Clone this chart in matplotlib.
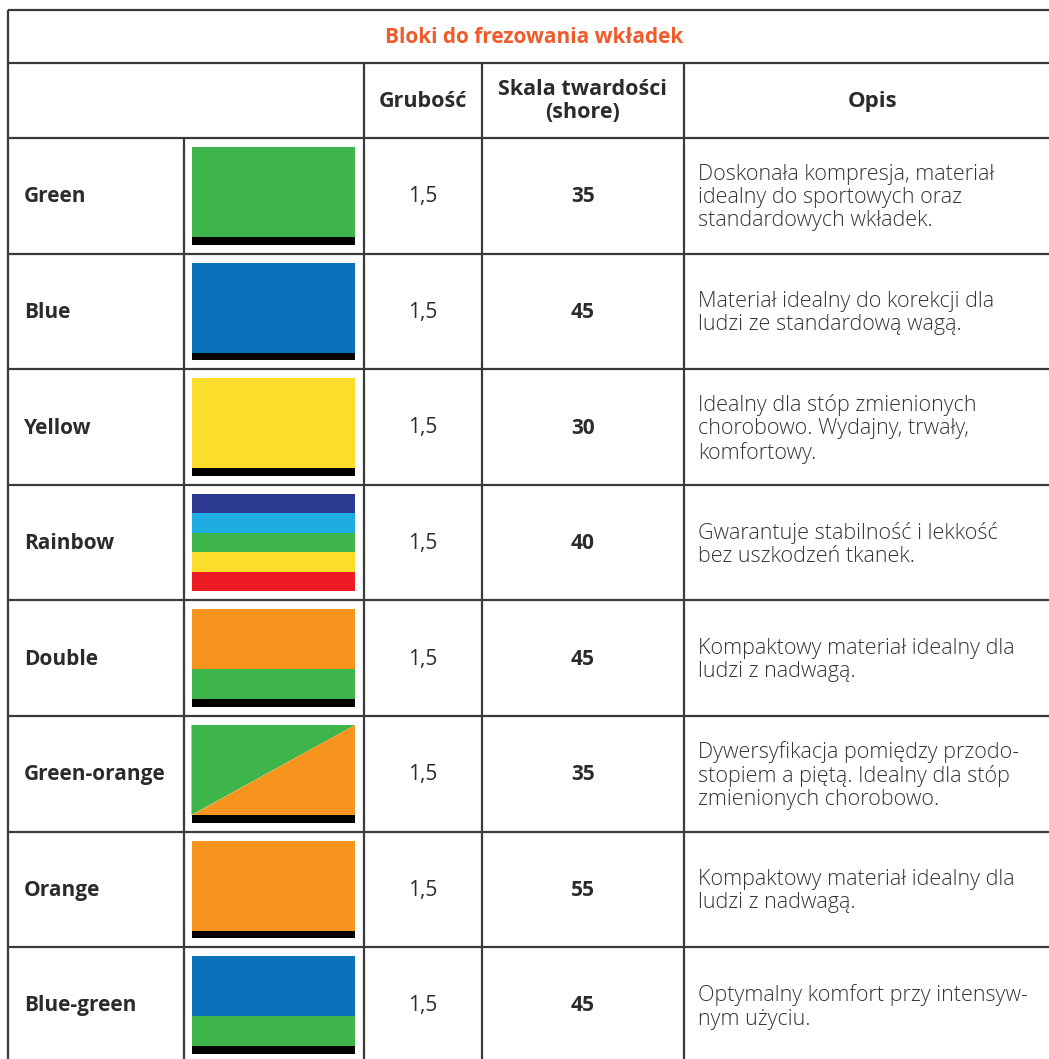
import matplotlib
matplotlib.use("Agg")
import matplotlib.pyplot as plt
from matplotlib.patches import Rectangle, Polygon

# ---------------- data ----------------
title = "Bloki do frezowania wkładek"
headers = ["Grubość", "Skala twardości\n(shore)", "Opis"]
names = ["Green", "Blue", "Yellow", "Rainbow", "Double",
         "Green-orange", "Orange", "Blue-green"]
thickness = ["1,5", "1,5", "1,5", "1,5", "1,5", "1,5", "1,5", "1,5"]
hardness = ["35", "45", "30", "40", "45", "35", "55", "45"]
descriptions = [
    "Doskonała kompresja, materiał\nidealny do sportowych oraz\nstandardowych wkładek.",
    "Materiał idealny do korekcji dla\nludzi ze standardową wagą.",
    "Idealny dla stóp zmienionych\nchorobowo. Wydajny, trwały,\nkomfortowy.",
    "Gwarantuje stabilność i lekkość\nbez uszkodzeń tkanek.",
    "Kompaktowy materiał idealny dla\nludzi z nadwagą.",
    "Dywersyfikacja pomiędzy przodo-\nstopiem a piętą. Idealny dla stóp\nzmienionych chorobowo.",
    "Kompaktowy materiał idealny dla\nludzi z nadwagą.",
    "Optymalny komfort przy intensyw-\nnym użyciu.",
]
GREEN, BLUE, YELLOW, ORANGE = "#3DB54A", "#0A72BA", "#FBDD2B", "#F7941D"
NAVY, SKY, RED = "#2B3990", "#1EACE3", "#ED1C24"
# stripes (top to bottom) with relative heights; "diag" = diagonal split
swatch_stripes = [
    [(GREEN, 1)],
    [(BLUE, 1)],
    [(YELLOW, 1)],
    [(NAVY, 1), (SKY, 1), (GREEN, 1), (YELLOW, 1), (RED, 1)],
    [(ORANGE, 2), (GREEN, 1)],
    [(GREEN, 1), (ORANGE, 1)],
    [(ORANGE, 1)],
    [(BLUE, 2), (GREEN, 1)],
]
swatch_kind = ["flat", "flat", "flat", "flat", "flat", "diag", "flat", "flat"]
black_base = [True, True, True, False, True, True, True, True]

# ---------------- layout ----------------
W, H = 1049, 1059
fig = plt.figure(figsize=(W / 100, H / 100), dpi=100)
ax = fig.add_axes([0, 0, 1, 1])
ax.set_xlim(0, W)
ax.set_ylim(H, 0)
ax.axis("off")

LINE = "#3a3a3a"
LW = 1.6
x_left, x_right = 8, 1061
col_name, col_sw, col_th, col_hd, col_op = 8, 183.5, 363.5, 482, 683.5
y_top, y_title, y_head = 10, 62.5, 138
row_h = 115.6
n = len(names)
row_y = [y_head + i * row_h for i in range(n + 1)]

FONT = ["Open Sans", "DejaVu Sans"]
TXT = "#2b2b2b"

# outer border and grid lines
ax.plot([x_left, x_left], [y_top, H + 10], color=LINE, lw=LW, solid_capstyle="butt")
ax.plot([x_right, x_right], [y_top, H + 10], color=LINE, lw=LW)
for y in [y_top, y_title] + row_y:
    ax.plot([x_left, x_right], [y, y], color=LINE, lw=LW, solid_capstyle="butt")
for x in [col_th, col_hd, col_op]:
    ax.plot([x, x], [y_title, H + 10], color=LINE, lw=LW, solid_capstyle="butt")
ax.plot([col_sw, col_sw], [y_head, H + 10], color=LINE, lw=LW, solid_capstyle="butt")

# title
ax.text((x_left + x_right) / 2, (y_top + y_title) / 2 + 1, title, ha="center", va="center",
        color="#EF5B2B", fontsize=15, fontweight="bold", family=FONT)

# headers
hy = (y_title + y_head) / 2 + 1
ax.text((col_th + col_hd) / 2, hy, headers[0], ha="center", va="center",
        color=TXT, fontsize=15.5, fontweight="bold", family=FONT)
ax.text((col_hd + col_op) / 2, hy, headers[1], ha="center", va="center",
        color=TXT, fontsize=15.5, fontweight="bold", family=FONT, linespacing=1.1,
        multialignment="center")
ax.text((col_op + x_right) / 2, hy, headers[2], ha="center", va="center",
        color=TXT, fontsize=16, fontweight="bold", family=FONT)

# rows
sw_x0, sw_x1 = 191.5, 355
sw_pad, sw_h, bar_h = 9, 97.5, 7.5
for i in range(n):
    y0 = row_y[i]
    yc = y0 + row_h / 2
    ax.text(24, yc + 1, names[i], ha="left", va="center", color=TXT,
            fontsize=15, fontweight="bold", family=FONT)
    ax.text((col_th + col_hd) / 2, yc + 1, thickness[i], ha="center", va="center",
            color=TXT, fontsize=15, family=FONT)
    ax.text((col_hd + col_op) / 2, yc + 1, hardness[i], ha="center", va="center",
            color=TXT, fontsize=15, fontweight="bold", family=FONT)
    ax.text(698, yc + 2, descriptions[i], ha="left", va="center", color="#333333",
            fontsize=15.5, fontweight="light", family=FONT, linespacing=1.13)

    top = y0 + sw_pad
    bottom = top + sw_h
    color_bottom = bottom - bar_h if black_base[i] else bottom
    stripes = swatch_stripes[i]
    if swatch_kind[i] == "diag":
        ax.add_patch(Polygon([(sw_x0, top), (sw_x1, top), (sw_x0, color_bottom)],
                             closed=True, facecolor=stripes[0][0], edgecolor="none"))
        ax.add_patch(Polygon([(sw_x1, top), (sw_x1, color_bottom), (sw_x0, color_bottom)],
                             closed=True, facecolor=stripes[1][0], edgecolor="none"))
    else:
        total = sum(w for _, w in stripes)
        yy = top
        for c, w in stripes:
            hh = (color_bottom - top) * w / total
            ax.add_patch(Rectangle((sw_x0, yy), sw_x1 - sw_x0, hh,
                                   facecolor=c, edgecolor="none"))
            yy += hh
    if black_base[i]:
        ax.add_patch(Rectangle((sw_x0, color_bottom), sw_x1 - sw_x0, bar_h,
                               facecolor="black", edgecolor="none"))

fig.savefig("out.png", dpi=100, facecolor="white")
